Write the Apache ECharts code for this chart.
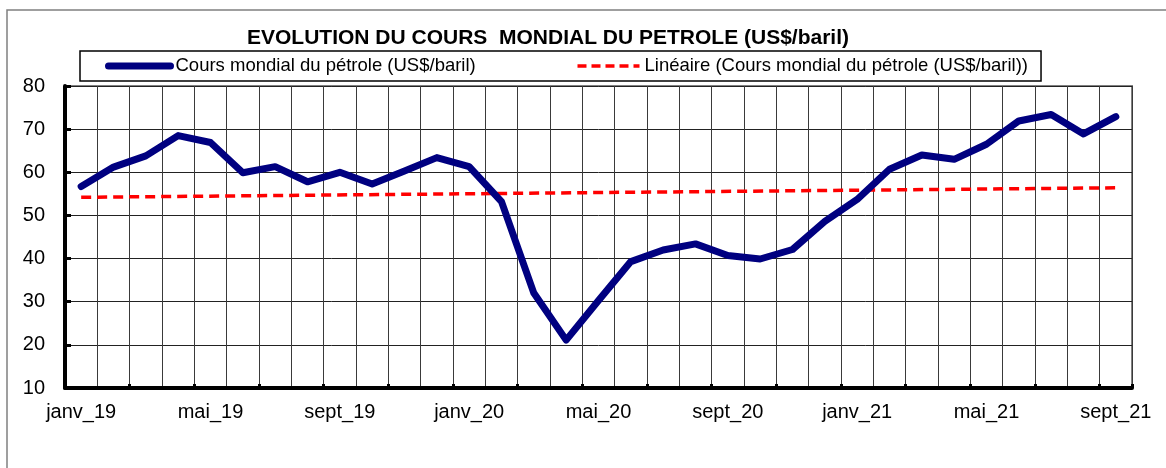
<!DOCTYPE html>
<html>
<head>
<meta charset="utf-8">
<title>Cours mondial du pétrole</title>
<script src="https://cdn.jsdelivr.net/npm/echarts@6/dist/echarts.min.js"></script>
<style>
	html, body { margin: 0; padding: 0; background: #fff; }
	#chart { width: 1166px; height: 468px; }
</style>
</head>
<body>
<div id="chart"></div>
<script>
// mois (janv 2019 -> sept 2021)
const mois = [
	'janv_19', 'févr_19', 'mars_19', 'avr_19', 'mai_19', 'juin_19', 'juil_19', 'août_19', 'sept_19', 'oct_19', 'nov_19', 'déc_19',
	'janv_20', 'févr_20', 'mars_20', 'avr_20', 'mai_20', 'juin_20', 'juil_20', 'août_20', 'sept_20', 'oct_20', 'nov_20', 'déc_20',
	'janv_21', 'févr_21', 'mars_21', 'avr_21', 'mai_21', 'juin_21', 'juil_21', 'août_21', 'sept_21'
];

// cours mondial (US$/baril)
const cours = [
	56.7, 61.2, 63.8, 68.5, 66.9, 59.9, 61.3, 57.8, 60.0, 57.3, 60.3, 63.4,
	61.3, 53.2, 32.0, 21.1, 30.3, 39.3, 42.0, 43.4, 40.7, 39.9, 42.1, 48.6,
	53.7, 60.7, 64.0, 63.0, 66.5, 71.9, 73.4, 68.9, 72.9
];

// tendance linéaire : deux extrémités
const tendanceIdx = [0, 32];
const tendanceVal = [54.2, 56.4];

const nomCours = 'Cours mondial du pétrole (US$/baril)';
const nomTendance = 'Linéaire (Cours mondial du pétrole (US$/baril))';

const police = 'Liberation Sans, Arial, sans-serif';

let myChart = echarts.init(document.getElementById('chart'));
let option = {
	backgroundColor: '#fff',
	animation: false,
	graphic: [{
		type: 'rect',
		shape: {x: 7, y: 10, width: 1200, height: 500},
		style: {fill: 'none', stroke: '#808080', lineWidth: 1.5},
		z: -1
	}],
	title: {
		text: 'EVOLUTION DU COURS  MONDIAL DU PETROLE (US$/baril)',
		left: 247,
		top: 28,
		padding: 0,
		textStyle: {fontFamily: police, fontSize: 21, fontWeight: 'bold', color: '#000'}
	},
	legend: {
		left: 80,
		top: 51,
		padding: [5, 13, 5, 25],
		itemGap: 100,
		itemWidth: 62,
		itemHeight: 14,
		borderColor: '#000',
		borderWidth: 1.5,
		textStyle: {fontFamily: police, fontSize: 18.5, color: '#000', lineHeight: 20},
		data: [{
			name: nomCours,
			itemStyle: {opacity: 0},
			lineStyle: {color: '#000080', width: 7, cap: 'round'}
		}, {
			name: nomTendance,
			itemStyle: {opacity: 0},
			lineStyle: {color: '#ff0000', width: 3.5, type: [9, 5]}
		}]
	},
	grid: {
		left: 65,
		right: 34,
		top: 86,
		bottom: 80,
		show: true,
		borderColor: '#808080',
		borderWidth: 2
	},
	xAxis: {
		type: 'category',
		data: mois,
		boundaryGap: true,
		axisLine: {lineStyle: {color: '#000', width: 4}},
		axisTick: {show: true, inside: true, interval: 1, length: 4, lineStyle: {color: '#000', width: 3}},
		axisLabel: {interval: 3, margin: 14, fontFamily: police, fontSize: 20, color: '#000'},
		splitLine: {show: true, interval: 0, lineStyle: {color: '#3a3a3a', width: 1}}
	},
	yAxis: {
		type: 'value',
		min: 10,
		max: 80,
		interval: 10,
		axisLine: {show: true, lineStyle: {color: '#000', width: 4}},
		axisTick: {show: true, inside: true, length: 6, lineStyle: {color: '#000', width: 3}},
		axisLabel: {margin: 20, fontFamily: police, fontSize: 20, color: '#000'},
		splitLine: {show: true, lineStyle: {color: '#222', width: 1}}
	},
	series: [{
		name: nomCours,
		type: 'line',
		data: cours,
		symbol: 'none',
		lineStyle: {color: '#000080', width: 7, cap: 'round', join: 'round'},
		itemStyle: {color: '#000080'},
		z: 3
	}, {
		name: nomTendance,
		type: 'line',
		data: tendanceIdx.map((i, k) => [i, tendanceVal[k]]),
		symbol: 'none',
		lineStyle: {color: '#ff0000', width: 3.5, type: [10, 6]},
		itemStyle: {color: '#ff0000'},
		z: 2
	}]
};
myChart.setOption(option);
</script>
</body>
</html>
